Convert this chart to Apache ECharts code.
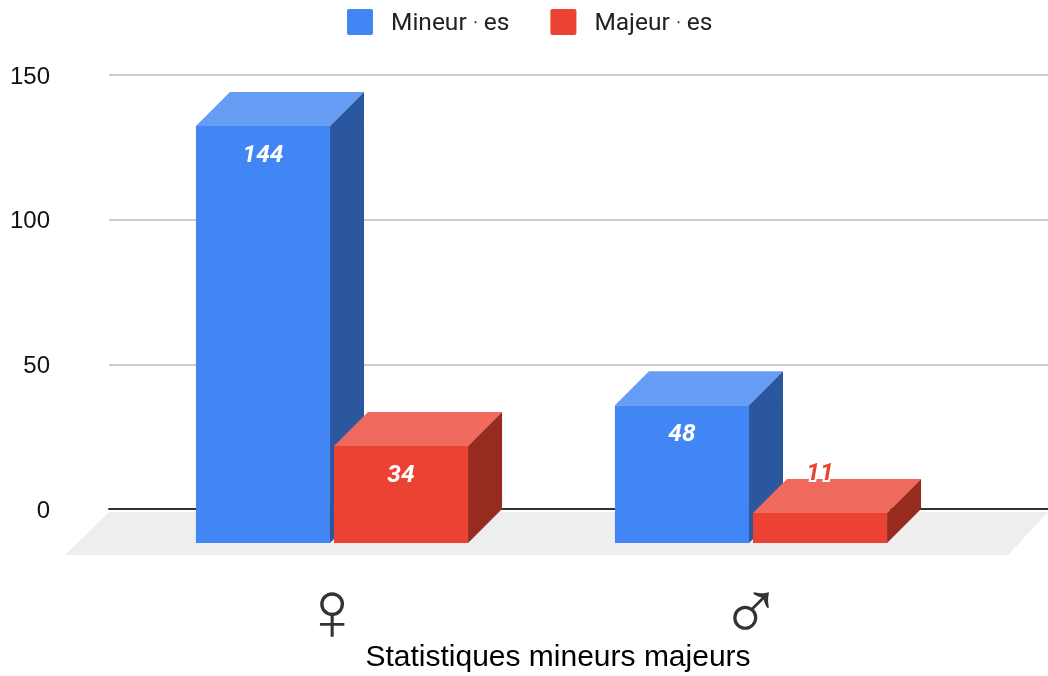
<!DOCTYPE html>
<html><head><meta charset="utf-8">
<style>html,body{margin:0;padding:0;background:#fff}#c{width:1048px;height:676px}</style>
<script src="https://cdn.jsdelivr.net/npm/echarts@6/dist/echarts.min.js"></script>
</head><body><div id="c"></div>
<script>
const categories = ['♀', '♂'];
const mineurs = [144, 48];
const majeurs = [34, 11];
const seriesNames = ['Mineur⋅es', 'Majeur⋅es'];
const yMax = 150;
const yStep = 50;
const axisTitle = 'Statistiques mineurs majeurs';

const DEPTH = 34;
const palette = [
  {front:'#4285F4', top:'#689DF6', side:'#2B579F', offset:-0.1647},
  {front:'#EC4233', top:'#EF6A5C', side:'#982B20', offset:0.1647}
];
const renderBar = (s) => (params, api) => {
  const p = palette[s];
  const band = api.size([1,0])[0];
  const w = band * 0.32;
  const c = api.coord([api.value(0), api.value(1)]);
  const y0 = api.coord([api.value(0), 0])[1];
  const x1 = c[0] + p.offset * band - w/2, x2 = x1 + w;
  const yT = c[1] + DEPTH, yB = y0 + DEPTH - 2;
  const v = api.value(1);
  const small = yB - yT < 45;
  const labelY = small ? c[1] - 5 : yT + 29.5;
  return {type:'group', children:[
    {type:'rect', shape:{x:x1,y:yT,width:w,height:yB-yT}, style:{fill:p.front}},
    {type:'polygon', shape:{points:[[x1,yT],[x1+DEPTH,yT-DEPTH],[x2+DEPTH,yT-DEPTH],[x2,yT]]}, style:{fill:p.top}},
    {type:'polygon', shape:{points:[[x2,yT],[x2+DEPTH,yT-DEPTH],[x2+DEPTH,yB-DEPTH],[x2,yB]]}, style:{fill:p.side}},
    {type:'text', z2:10, style:{text:String(v), x:(x1+x2)/2, y:labelY, align:'center', verticalAlign:'middle',
      fontFamily:'Roboto', fontWeight:'bold', fontStyle:'italic', fontSize:24.5,
      fill: small ? p.front : '#fff', stroke: small ? '#fff' : null, lineWidth: small ? 4 : 0}}
  ]};
};
const renderFloor = (params, api) => {
  const y0 = api.coord([0,0])[1];
  const g = params.coordSys;
  return {type:'polygon', shape:{points:[[g.x,y0+3],[g.x+g.width,y0+3],[g.x+g.width-40,y0+46],[g.x-44,y0+46]]}, style:{fill:'#EEEEEE'}};
};
const legendText = (name) => {
  const parts = name.split('⋅');
  return '{a|' + parts[0] + '}{d|⋅}{a|' + parts[1] + '}';
};

const chart = echarts.init(document.getElementById('c'), null, {renderer:'canvas'});
chart.setOption({
  animation:false,
  backgroundColor:'#fff',
  title:{text:axisTitle, left:558, top:643, textAlign:'center', padding:0,
    textStyle:{fontFamily:'Liberation Sans', fontWeight:'normal', fontSize:30, color:'#000'}},
  legend:{left:347, top:9, itemWidth:26, itemHeight:26, itemGap:41, padding:0,
    icon:'path://M2 0H24Q26 0 26 2V24Q26 26 24 26H2Q0 26 0 24V2Q0 0 2 0Z',
    data:seriesNames, formatter:legendText,
    textStyle:{padding:[0,0,0,13], rich:{
      a:{fontFamily:'Roboto', fontSize:24.5, color:'#222', padding:[4,0,0,0]},
      d:{fontFamily:'DejaVu Sans', fontSize:16, color:'#222', padding:[4,6,0,6]}
    }}},
  grid:[
    {left:109, right:0, top:75, height:434},
    {left:122.5, width:838, top:74.5, height:436.5}
  ],
  xAxis:[
    {gridIndex:0, type:'value', min:0, max:1, show:true, splitLine:{show:false}, axisTick:{show:false}, axisLabel:{show:false},
     axisLine:{show:true, onZero:true, lineStyle:{color:'#333', width:2}}},
    {gridIndex:1, type:'category', data:categories, axisLine:{show:false}, axisTick:{show:false},
     axisLabel:{margin:63, fontFamily:'Liberation Sans', fontSize:85, color:'#333'}}
  ],
  yAxis:[
    {gridIndex:0, type:'value', min:0, max:yMax, interval:yStep, axisLine:{show:false}, axisTick:{show:false},
     axisLabel:{margin:59, formatter:'{v|{value}}', rich:{v:{fontFamily:'Liberation Sans', fontSize:24, color:'#111', padding:[4,0,0,0]}}},
     splitLine:{lineStyle:{color:'#CCCCCC', width:2}}},
    {gridIndex:1, type:'value', min:0, max:yMax, interval:yStep, show:false, splitLine:{show:false}}
  ],
  series:[
    {type:'custom', name:'floor', xAxisIndex:0, yAxisIndex:0, z:1, silent:true, renderItem:renderFloor, data:[[0,0]], encode:{x:0,y:1}},
    {type:'custom', name:seriesNames[0], xAxisIndex:1, yAxisIndex:1, z:3, renderItem:renderBar(0),
     itemStyle:{color:palette[0].front}, data:mineurs.map((v,i)=>[i,v]), encode:{x:0,y:1}},
    {type:'custom', name:seriesNames[1], xAxisIndex:1, yAxisIndex:1, z:4, renderItem:renderBar(1),
     itemStyle:{color:palette[1].front}, data:majeurs.map((v,i)=>[i,v]), encode:{x:0,y:1}}
  ]
});
</script></body></html>
